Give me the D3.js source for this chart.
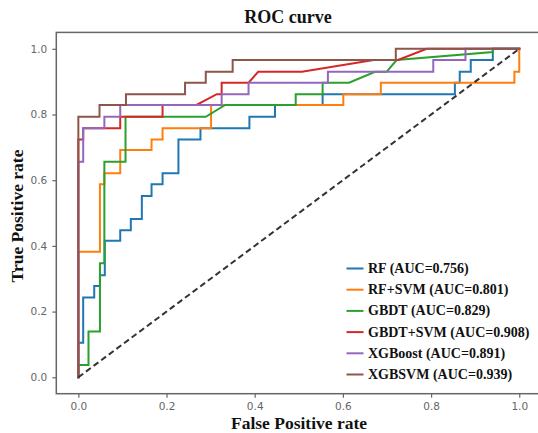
<!DOCTYPE html>
<html>
<head>
<meta charset="utf-8">
<script src="https://cdn.jsdelivr.net/npm/d3@7"></script>
<style>
  html, body { margin: 0; padding: 0; background: #fff; }
  svg { display: block; }
</style>
</head>
<body>
<div id="chart"></div>
<script>
// ---------- Data ----------
const seriesNames = ["RF (AUC=0.756)", "RF+SVM (AUC=0.801)", "GBDT (AUC=0.829)",
                     "GBDT+SVM (AUC=0.908)", "XGBoost (AUC=0.891)", "XGBSVM (AUC=0.939)"];
const seriesColors = ["#1f77b4", "#ff7f0e", "#2ca02c", "#d62728", "#9467bd", "#8c564b"];

const rfFpr  = [0, 0, 0.011, 0.011, 0.036, 0.036, 0.049, 0.049, 0.060, 0.060, 0.095, 0.095, 0.119, 0.119, 0.144, 0.144, 0.166, 0.166, 0.191, 0.191, 0.227, 0.227, 0.277, 0.277, 0.388, 0.388, 0.446, 0.446, 0.554, 0.554, 0.854, 0.854, 0.865, 0.865, 0.890, 0.890, 0.940, 0.940, 1];
const rfTpr  = [0, 0.105, 0.105, 0.243, 0.243, 0.278, 0.278, 0.311, 0.311, 0.416, 0.416, 0.448, 0.448, 0.482, 0.482, 0.552, 0.552, 0.588, 0.588, 0.621, 0.621, 0.724, 0.724, 0.758, 0.758, 0.793, 0.793, 0.829, 0.829, 0.862, 0.862, 0.897, 0.897, 0.930, 0.930, 0.966, 0.966, 1, 1];

const rfsvmFpr = [0, 0, 0.049, 0.049, 0.059, 0.059, 0.095, 0.095, 0.166, 0.166, 0.191, 0.191, 0.301, 0.301, 0.601, 0.601, 0.686, 0.686, 0.989, 0.989, 1, 1];
const rfsvmTpr = [0, 0.382, 0.382, 0.588, 0.588, 0.621, 0.621, 0.692, 0.692, 0.724, 0.724, 0.758, 0.758, 0.829, 0.829, 0.862, 0.862, 0.897, 0.897, 0.930, 0.930, 1];

const gbdtFpr = [0, 0, 0.023, 0.023, 0.049, 0.049, 0.059, 0.059, 0.107, 0.107, 0.289, 0.333, 0.493, 0.493, 0.554, 0.554, 0.614, 0.673, 0.699, 0.722, 0.940, 0.940, 1];
const gbdtTpr = [0, 0.037, 0.037, 0.139, 0.139, 0.347, 0.347, 0.656, 0.656, 0.793, 0.793, 0.829, 0.829, 0.862, 0.862, 0.897, 0.897, 0.930, 0.930, 0.966, 0.990, 1, 1];

const gbdtsvmFpr = [0, 0, 0.011, 0.011, 0.095, 0.095, 0.191, 0.191, 0.268, 0.314, 0.325, 0.325, 0.386, 0.408, 0.507, 0.670, 0.725, 0.790, 1];
const gbdtsvmTpr = [0, 0.724, 0.724, 0.758, 0.758, 0.793, 0.793, 0.829, 0.829, 0.862, 0.862, 0.897, 0.897, 0.930, 0.930, 0.966, 0.966, 1, 1];

const xgbFpr = [0, 0, 0.011, 0.011, 0.059, 0.059, 0.095, 0.095, 0.325, 0.325, 0.386, 0.386, 0.566, 0.566, 0.805, 0.805, 0.878, 0.878, 1];
const xgbTpr = [0, 0.656, 0.656, 0.758, 0.758, 0.793, 0.793, 0.829, 0.829, 0.862, 0.862, 0.897, 0.897, 0.930, 0.930, 0.966, 0.966, 1, 1];

const xgbsvmFpr = [0, 0, 0.048, 0.048, 0.108, 0.108, 0.242, 0.242, 0.289, 0.289, 0.350, 0.350, 0.720, 0.720, 1];
const xgbsvmTpr = [0, 0.793, 0.793, 0.829, 0.829, 0.862, 0.862, 0.897, 0.897, 0.930, 0.930, 0.966, 0.966, 1, 1];

const fprList = [rfFpr, rfsvmFpr, gbdtFpr, gbdtsvmFpr, xgbFpr, xgbsvmFpr];
const tprList = [rfTpr, rfsvmTpr, gbdtTpr, gbdtsvmTpr, xgbTpr, xgbsvmTpr];

const tickValues = [0, 0.2, 0.4, 0.6, 0.8, 1.0];
const tickLabels = ["0.0", "0.2", "0.4", "0.6", "0.8", "1.0"];
const chanceLine = [0, 1];

const titleText = "ROC curve";
const xLabelText = "False Positive rate";
const yLabelText = "True Positive rate";

// ---------- Layout ----------
const W = 538, H = 433;
const plot = { left: 56.3, right: 541.3, top: 32.4, bottom: 393.7 };

const svg = d3.select("#chart").append("svg")
  .attr("width", W).attr("height", H);

const x = d3.scaleLinear().domain([-0.05, 1.05]).range([plot.left, plot.right]);
const y = d3.scaleLinear().domain([-0.05, 1.05]).range([plot.bottom, plot.top]);

// Curves
const line = d3.line().x(d => x(d[0])).y(d => y(d[1]));
fprList.forEach((fpr, i) => {
  const pts = fpr.map((v, j) => [v, tprList[i][j]]);
  svg.append("path")
    .datum(pts)
    .attr("d", line)
    .attr("fill", "none")
    .attr("stroke", seriesColors[i])
    .attr("stroke-width", 2)
    .attr("stroke-linejoin", "miter")
    .attr("stroke-linecap", "square");
});

// Chance line
svg.append("path")
  .datum(chanceLine.map(v => [v, v]))
  .attr("d", line)
  .attr("fill", "none")
  .attr("stroke", "#333")
  .attr("stroke-width", 2)
  .attr("stroke-dasharray", "6,3.5");

// Axes
const tickColor = "#666";
const xAxis = d3.axisBottom(x).tickValues(tickValues)
  .tickFormat((d, i) => tickLabels[i]).tickSize(4).tickPadding(5);
const yAxis = d3.axisLeft(y).tickValues(tickValues)
  .tickFormat((d, i) => tickLabels[i]).tickSize(4).tickPadding(5);

const gx = svg.append("g").attr("transform", `translate(0,${plot.bottom})`).call(xAxis);
const gy = svg.append("g").attr("transform", `translate(${plot.left},0)`).call(yAxis);
[gx, gy].forEach(g => {
  g.select(".domain").remove();
  g.selectAll(".tick line").attr("stroke", tickColor).attr("stroke-width", 1.2);
  g.selectAll(".tick text")
    .attr("fill", "#666")
    .style("font-family", "'DejaVu Sans', sans-serif")
    .style("font-size", "10.5px");
});

// Frame
svg.append("rect")
  .attr("x", plot.left).attr("y", plot.top)
  .attr("width", plot.right - plot.left)
  .attr("height", plot.bottom - plot.top)
  .attr("fill", "none")
  .attr("stroke", "#666")
  .attr("stroke-width", 1.5);

// Title & labels
const serif = "'Liberation Serif', 'Times New Roman', serif";
svg.append("text")
  .attr("x", 288).attr("y", 17)
  .attr("text-anchor", "middle").attr("dominant-baseline", "central")
  .style("font-family", serif).style("font-weight", "bold").style("font-size", "18px")
  .attr("fill", "#111")
  .text(titleText);

svg.append("text")
  .attr("x", 299).attr("y", 423)
  .attr("text-anchor", "middle").attr("dominant-baseline", "central")
  .style("font-family", serif).style("font-weight", "bold").style("font-size", "17.5px")
  .attr("fill", "#111")
  .text(xLabelText);

svg.append("text")
  .attr("transform", `translate(17,216) rotate(-90)`)
  .attr("text-anchor", "middle").attr("dominant-baseline", "central")
  .style("font-family", serif).style("font-weight", "bold").style("font-size", "17.5px")
  .attr("fill", "#111")
  .text(yLabelText);

// Legend
const legend = svg.append("g");
seriesNames.forEach((name, i) => {
  const cy = 268.5 + i * 21.2;
  legend.append("line")
    .attr("x1", 346.5).attr("x2", 363.5)
    .attr("y1", cy).attr("y2", cy)
    .attr("stroke", seriesColors[i]).attr("stroke-width", 2);
  legend.append("text")
    .attr("x", 368).attr("y", cy)
    .attr("dominant-baseline", "central")
    .style("font-family", serif).style("font-weight", "bold").style("font-size", "14px")
    .attr("fill", "#111")
    .text(name);
});
</script>
</body>
</html>
